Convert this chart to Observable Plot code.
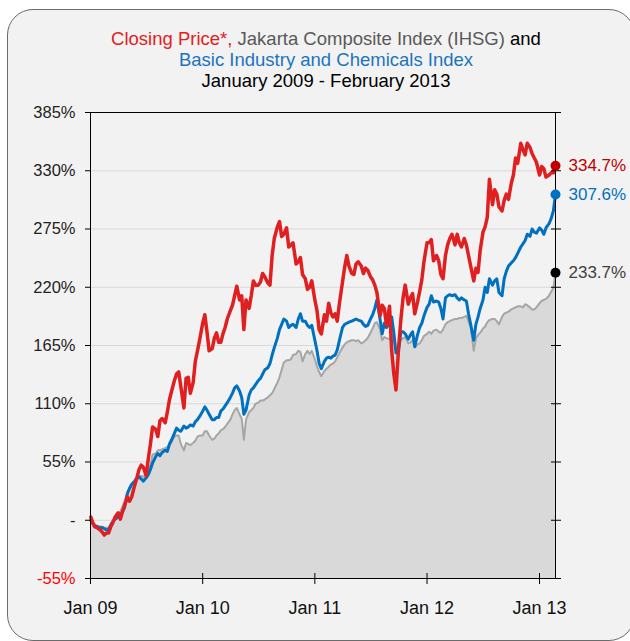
<!DOCTYPE html>
<html><head><meta charset="utf-8">
<script src="https://cdn.jsdelivr.net/npm/d3@7"></script>
<script src="https://cdn.jsdelivr.net/npm/@observablehq/plot@0.6"></script>
<style>
html,body{margin:0;padding:0;background:#fff;width:630px;height:641px;overflow:hidden;font-family:"Liberation Sans",Arial,sans-serif;}
#panel{position:absolute;left:7px;top:9px;width:628px;height:632px;box-sizing:border-box;border:1px solid #6b6b6b;border-radius:26px;background:#f2f2f2;}
#chart{position:absolute;left:0;top:0;}
#title{position:absolute;left:0;top:28px;width:652px;text-align:center;font-size:18.5px;line-height:21px;color:#000;}
</style></head><body>
<div id="panel"></div>
<div id="chart"></div>
<div id="title"><span style="color:#e3201c">Closing Price*,</span> <span style="color:#595959">Jakarta Composite Index (IHSG)</span> and<br><span style="color:#1b75bc">Basic Industry and Chemicals Index</span><br>January 2009 - February 2013</div>
<script>
const dates = [
"2009-01-02","2009-01-08","2009-01-15","2009-01-22","2009-02-01","2009-02-08","2009-02-15","2009-02-22","2009-03-01","2009-03-08","2009-03-15","2009-03-22","2009-04-01","2009-04-08","2009-04-15","2009-04-22","2009-05-01","2009-05-08","2009-05-15","2009-05-22","2009-06-01","2009-06-08","2009-06-15","2009-06-22","2009-07-01","2009-07-08","2009-07-15","2009-07-22","2009-08-01","2009-08-08","2009-08-15","2009-08-22","2009-09-01","2009-09-08","2009-09-15","2009-09-22","2009-10-01","2009-10-08","2009-10-15","2009-10-22","2009-11-01","2009-11-08","2009-11-15","2009-11-22","2009-12-01","2009-12-08","2009-12-15","2009-12-22",
"2010-01-01","2010-01-08","2010-01-15","2010-01-22","2010-02-01","2010-02-08","2010-02-15","2010-02-22","2010-03-01","2010-03-08","2010-03-15","2010-03-22","2010-04-01","2010-04-08","2010-04-15","2010-04-22","2010-05-01","2010-05-08","2010-05-15","2010-05-22","2010-06-01","2010-06-08","2010-06-15","2010-06-22","2010-07-01","2010-07-08","2010-07-15","2010-07-22","2010-08-01","2010-08-08","2010-08-15","2010-08-22","2010-09-01","2010-09-08","2010-09-15","2010-09-22","2010-10-01","2010-10-08","2010-10-15","2010-10-22","2010-11-01","2010-11-08","2010-11-15","2010-11-22","2010-12-01","2010-12-08","2010-12-15","2010-12-22",
"2011-01-01","2011-01-08","2011-01-15","2011-01-22","2011-02-01","2011-02-08","2011-02-15","2011-02-22","2011-03-01","2011-03-08","2011-03-15","2011-03-22","2011-04-01","2011-04-08","2011-04-15","2011-04-22","2011-05-01","2011-05-08","2011-05-15","2011-05-22","2011-06-01","2011-06-08","2011-06-15","2011-06-22","2011-07-01","2011-07-08","2011-07-15","2011-07-22","2011-08-01","2011-08-08","2011-08-15","2011-08-22","2011-09-01","2011-09-08","2011-09-15","2011-09-22","2011-10-01","2011-10-08","2011-10-15","2011-10-22","2011-11-01","2011-11-08","2011-11-15","2011-11-22","2011-12-01","2011-12-08","2011-12-15","2011-12-22",
"2012-01-01","2012-01-08","2012-01-15","2012-01-22","2012-02-01","2012-02-08","2012-02-15","2012-02-22","2012-03-01","2012-03-08","2012-03-15","2012-03-22","2012-04-01","2012-04-08","2012-04-15","2012-04-22","2012-05-01","2012-05-08","2012-05-15","2012-05-22","2012-06-01","2012-06-08","2012-06-15","2012-06-22","2012-07-01","2012-07-08","2012-07-15","2012-07-22","2012-08-01","2012-08-08","2012-08-15","2012-08-22","2012-09-01","2012-09-08","2012-09-15","2012-09-22","2012-10-01","2012-10-08","2012-10-15","2012-10-22","2012-11-01","2012-11-08","2012-11-15","2012-11-22","2012-12-01","2012-12-08","2012-12-15","2012-12-22",
"2013-01-01","2013-01-08","2013-01-15","2013-01-22","2013-02-01","2013-02-08","2013-02-15","2013-02-22"];

// Closing price (red), % change since January 2009
const closingPrice = [
3,-2,-6,-7, -9,-11,-14,-12, -12,-6,-2,3, 7,1,8,14, 22,18,22,30, 40,48,52,50, 42,58,72,88, 86,79,94,96, 92,102,114,122, 132,138,140,126, 106,134,135,120, 130,150,160,170,
186,194,178,160, 162,172,177,168, 168,176,182,190, 198,203,212,221, 208,212,180,208, 200,212,226,222, 222,225,233,230, 224,222,250,266, 277,282,268,270, 276,258,260,262, 242,244,248,232, 228,218,220,226,
208,198,180,176, 194,188,205,196, 192,195,188,205, 225,239,250,240, 233,232,242,244, 240,233,238,236, 230,227,222,215, 193,203,200,184, 202,160,138,123, 165,190,210,222, 204,210,214,195, 206,216,227,244,
262,262,265,245, 250,245,232,228, 250,260,266,270, 260,270,262,258, 266,260,250,240, 226,238,234,255, 272,277,286,322, 298,312,308,296, 292,302,308,303, 318,326,342,337, 356,350,345,356, 352,346,342,338,
326,334,332,324, 326,328,328,334.7];

// Basic Industry and Chemicals Index (blue)
const basicIndustry = [
0,-3,-6,-6, -7,-7,-8,-9, -9,-5,-1,1, 3,4,8,12, 25,30,34,36, 40,41,39,37, 40,43,48,54, 60,63,61,64, 66,65,72,76, 82,87,85,84, 89,87,88,90, 89,93,95,98,
103,107,104,100, 95,95,97,97, 103,105,108,111, 116,120,125,127, 122,116,100,104, 118,123,125,128, 132,134,138,142, 144,148,156,163, 172,180,185,190, 188,182,184,185, 182,190,195,188, 188,184,182,184,
170,160,148,143, 150,153,154,153, 155,156,161,170, 182,185,186,187, 188,189,190,189, 188,185,183,184, 190,194,200,208, 190,176,186,182, 186,192,177,158, 162,178,178,176, 171,175,178,164, 175,182,186,193,
201,204,212,206, 207,206,200,190, 210,212,213,212, 213,210,208,210, 208,207,195,185, 170,185,192,200, 208,220,215,228, 222,226,228,215, 212,228,235,240, 243,245,248,252, 258,261,264,270, 268,275,272,271,
276,274,270,276, 280,285,292,307.6];

// Jakarta Composite Index (gray)
const ihsg = [
0,-3,-4,-5, -6,-6,-7,-7, -7,-3,-1,2, 6,8,13,18, 27,31,33,35, 38,41,42,41, 43,47,52,62, 63,66,66,67, 68,69,71,74, 79,80,80,72, 66,73,72,71, 73,75,79,80,
80,84,84,80, 76,77,80,82, 85,86,88,91, 95,100,104,106, 100,96,76,95, 102,104,106,110, 111,113,113,114, 116,118,120,124, 130,135,142,149, 151,151,152,156, 157,160,159,150, 157,160,157,160,
152,145,140,136, 141,143,145,147, 148,150,154,158, 163,166,168,169, 170,170,169,170, 167,168,170,172, 177,181,186,187, 180,170,173,172, 171,176,172,158, 164,170,172,173, 167,168,170,163, 166,167,170,174,
176,178,176,179, 180,178,177,180, 185,187,188,189, 190,190,191,191, 192,193,188,182, 160,172,175,177, 181,183,187,189, 190,190,188,185, 192,195,196,197, 199,200,201,202, 202,201,204,203, 201,199,199,201,
205,207,208,209, 212,216,219,233.7];

const yTicks = [-55, 0, 55, 110, 165, 220, 275, 330, 385];
const xTickDates = ["2009-01-01","2010-01-01","2011-01-01","2012-01-01","2013-01-01"];
const xTickLabels = ["Jan 09","Jan 10","Jan 11","Jan 12","Jan 13"];
const xDomain = ["2009-01-01","2013-02-22"];

const toDate = s => new Date(s + "T00:00:00Z");
const rows = dates.map((d, i) => ({date: toDate(d), red: closingPrice[i], blue: basicIndustry[i], gray: ihsg[i]}));
const last = rows[rows.length - 1];
const ends = [
  {date: last.date, value: last.red, dot: "#c00000", txt: "#c00000"},
  {date: last.date, value: last.blue, dot: "#0070c0", txt: "#0070c0"},
  {date: last.date, value: last.gray, dot: "#000000", txt: "#404040"}
];
const xt = xTickDates.map(toDate);

const chart = Plot.plot({
  width: 630, height: 641,
  marginLeft: 90, marginRight: 75, marginTop: 112, marginBottom: 63,
  style: {background: "transparent", fontFamily: "'Liberation Sans', Arial, sans-serif", fontSize: "16.5px", color: "#222"},
  x: {type: "utc", domain: xDomain.map(toDate)},
  y: {domain: [-55, 385]},
  color: {type: "identity"},
  marks: [
    Plot.ruleY(yTicks.slice(1, -1), {stroke: "#d9d9d9", strokeWidth: 1}),
    Plot.areaY(rows, {x: "date", y1: -55, y2: "gray", fill: "#d9d9d9"}),
    Plot.lineY(rows, {x: "date", y: "gray", stroke: "#a6a6a6", strokeWidth: 2, strokeLinejoin: "round"}),
    Plot.lineY(rows, {x: "date", y: "blue", stroke: "#0070c0", strokeWidth: 3, strokeLinejoin: "round"}),
    Plot.lineY(rows, {x: "date", y: "red", stroke: "#e02020", strokeWidth: 3.5, strokeLinejoin: "round"}),
    Plot.frame({stroke: "#000", strokeWidth: 1}),
    Plot.axisY(yTicks, {anchor: "left", tickSize: 5, tickPadding: 10, stroke: "#000", fill: "#222",
      tickFormat: d => d === -55 ? "" : (d === 0 ? "-" : d + "%"), label: null}),
    Plot.axisY([-55], {anchor: "left", tickSize: 5, tickPadding: 10, stroke: "#000", fill: "#ff0000",
      tickFormat: d => d + "%", label: null}),
    Plot.axisY(yTicks, {anchor: "right", tickSize: 10, dx: -5, stroke: "#000", tickFormat: () => "", label: null}),
    Plot.axisX(xt, {anchor: "bottom", tickSize: 11, dy: -5, stroke: "#000", tickFormat: () => "", label: null}),
    Plot.axisX(xt, {anchor: "bottom", tickSize: 0, tickPadding: 23, fill: "#111", fontSize: 18,
      tickFormat: d => xTickLabels[xt.findIndex(t => +t === +d)], label: null}),
    Plot.dot(ends, {x: "date", y: "value", r: 5, fill: "dot", stroke: null}),
    Plot.text(ends, {x: "date", y: "value", text: d => d.value.toFixed(1) + "%", fill: "txt", dx: 13, textAnchor: "start", fontSize: 17})
  ]
});
document.getElementById("chart").appendChild(chart);
</script>
</body></html>
